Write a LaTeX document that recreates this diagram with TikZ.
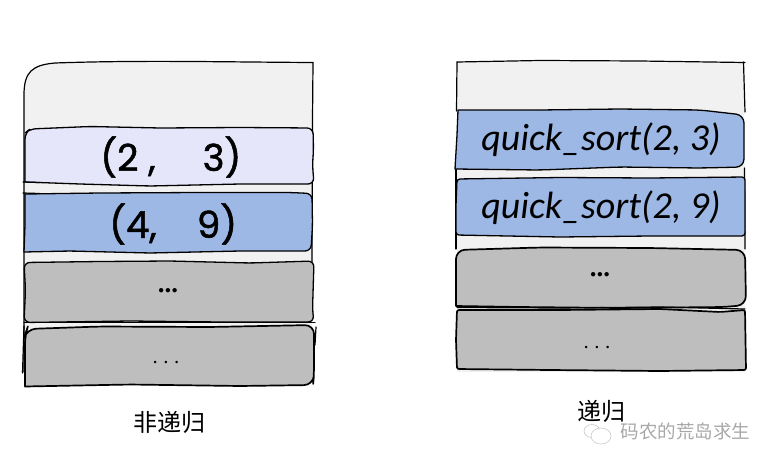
\documentclass[tikz,border=0pt]{standalone}
\usepackage{fontspec}
\setmainfont{Liberation Serif}
\newfontfamily\cjk{Noto Sans CJK SC}
\newfontfamily\handa{Carlito}
\newfontfamily\handb[FakeBold=1.4]{Poppins}
\definecolor{panel}{HTML}{F1F1F1}
\definecolor{lav}{HTML}{E6E6FB}
\definecolor{blu}{HTML}{9DB8E5}
\definecolor{gry}{HTML}{BEBEBE}
\definecolor{wm}{HTML}{A8A8A8}
\tikzset{
  ink/.style={draw=black,line width=1.3pt,line join=round},
  heavy/.style={draw=black,line width=1.7pt,line join=round},
  rough/.style={line width=1.2pt,line cap=round},
  callbig/.style={inner sep=0pt,font=\handb\fontsize{37}{37}\selectfont},
  callfun/.style={inner sep=0pt,font=\handa\itshape\fontsize{38}{38}\selectfont},
  dotsb/.style={inner sep=0pt,font=\bfseries\fontsize{27}{27}\selectfont},
  dotsn/.style={inner sep=0pt,font=\bfseries\fontsize{15}{15}\selectfont},
  cap1/.style={inner sep=0pt,font=\cjk\fontsize{24}{24}\selectfont},
  wmk/.style={inner sep=0pt,text=wm,font=\cjk\fontsize{18.5}{18.5}\selectfont},
  bubble/.style={draw=wm!70,line width=.5pt,fill=white}
}
\begin{document}
\begin{tikzpicture}[x=1pt,y=-1pt]
\useasboundingbox (0,0) rectangle (776,466);
% left stack panel
\path[fill=panel] (24,372) -- (24,95) .. controls (24,72) and (32,65) .. (55,63) .. controls (140,60) and (220,62) .. (313,62.5) -- (312,372) -- cycle;
\draw[rough] (24,372) -- (24,95) .. controls (24,72) and (32,65) .. (55,63) .. controls (140,60) and (220,62) .. (313,62.5) -- (312.5,120) -- (312,262);
% left boxes
\path[ink,fill=lav] [rounded corners=6pt] (25,182) -- (25,133) -- (30,129) -- (90,126.5) -- (160,128) -- (240,127.5) -- (313,128) -- (313.5,150) -- (312.5,165) -- (314,184) -- (240,184) -- (150,186) -- (80,184) [sharp corners] -- (25,182) -- cycle;
\draw[rough] (23,182) -- (40,182.5);
\path[ink,fill=blu] [rounded corners=6pt] (25,194) -- (100,193) -- (200,192.5) -- (290,192.5) -- (312,193.5) -- (312.5,225) -- (311,251) -- (240,251) -- (150,253) -- (70,251) [sharp corners] -- (24,252) -- (25,225) -- cycle;
\draw[rough] (23,193) -- (40,193.5);
\path[ink,fill=gry] [rounded corners=6pt] (24,262.5) -- (100,261.5) -- (170,261) -- (250,263) -- (314,261) -- (312.5,310) -- (314,322) -- (220,322) -- (130,321) -- (24,322.5) -- (25.5,290) -- cycle;
\draw[rough] (24,322.5) -- (315,322.5);
\path[heavy,fill=gry] [rounded corners=9pt] (25,386.5) -- (25,335) -- (27,329) -- (100,326.5) -- (210,327) -- (314,325) -- (314,375) -- (313,385) -- (240,386) -- (130,384.5) [sharp corners] -- (25,386.5) -- cycle;
\draw[rough] (24,326) -- (22.5,373);
\draw[rough] (316,327) -- (315,345);
% right stack panel
\path[fill=panel] (457,62) -- (744,62.5) -- (745,372) -- (457,372) -- cycle;
\draw[rough] (456.5,111) -- (457,62) -- (540,60.5) -- (640,61) -- (745,62.5);
\draw[rough] (743.5,62) -- (745,112);
\draw[rough] (456,168) -- (456,249);
\draw[rough] (744.5,168) -- (745,249);
% right boxes
\path[ink,fill=blu] (458,110) [rounded corners=8pt] -- (540,110) -- (620,109) -- (700,110) -- (744,115) -- (744,167) -- (700,168) -- (620,167) -- (540,170) [sharp corners] -- (455,169) -- (457,135) -- cycle;
\path[ink,fill=blu] (457,179) [rounded corners=3pt] -- (560,177.5) -- (650,178) -- (745,177) -- (745,236) -- (650,236) -- (560,237) -- (456,235) -- (456,205) -- cycle;
\path[heavy,fill=gry] [rounded corners=9pt] (456,306) -- (456,250) -- (540,247.5) -- (650,248) -- (745,250) -- (746,305) -- (725,307) -- (620,308) -- (520,307) [sharp corners] -- (456,306) -- cycle;
\path[heavy,fill=gry] [rounded corners=2pt] (457,310) -- (560,310) -- (660,309) -- (720,312) -- (745,310) -- (746,370) -- (660,371) -- (550,370) -- (457,369) -- (456,340) -- cycle;
\draw[rough] (457,307.5) -- (560,308) -- (660,307) -- (745,309);
% texts
\node[callbig] (t1a) at (128,157) {(2 ,};
\node[callbig] (t1b) at (222,157) {3)};
\node[callbig] (t2a) at (133,224) {(4,};
\node[callbig] (t2b) at (217,224) {9)};
\node[dotsb] (d1) at (168,291) {...};
\node[dotsn] (d2) at (166,362) {.\hspace{7pt}.\hspace{7pt}.};
\node[callfun] (f1) at (601,140) {quick\_sort(2, 3)};
\node[callfun] (f2) at (601,208) {quick\_sort(2, 9)};
\node[dotsb] (d3) at (600,275) {...};
\node[dotsn] (d4) at (597,347) {.\hspace{7pt}.\hspace{7pt}.};
\node[cap1] (c1) at (169,422) {非递归};
\node[cap1] (c2) at (601,411) {递归};
% watermark
\draw[bubble] (592,431) ellipse (8 and 6.5);
\draw[bubble] (601,436) ellipse (10 and 8);
\node[wmk] (w) at (685.5,431) {码农的荒岛求生};
\end{tikzpicture}
\end{document}
